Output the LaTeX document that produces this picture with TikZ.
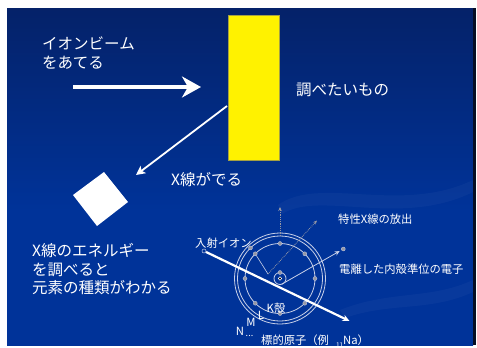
\documentclass[tikz,border=0pt]{standalone}
\usepackage{fontspec}
\newfontfamily\jp{Noto Sans CJK JP}
\usetikzlibrary{arrows.meta}
\definecolor{bgtop}{RGB}{3,10,28}
\definecolor{bgmid}{RGB}{5,32,100}
\definecolor{bgblue}{RGB}{0,51,153}
\definecolor{bgedge}{RGB}{6,14,36}
\definecolor{shell}{RGB}{200,208,232}
\definecolor{edot}{RGB}{150,152,165}
\pgfdeclareverticalshading{slide}{100bp}{color(0bp)=(bgblue); color(45bp)=(bgblue); color(78bp)=(bgmid); color(100bp)=(bgtop)}
\begin{document}
\begin{tikzpicture}[x=1pt,y=-1pt,font=\jp,
    caption/.style={text=white,inner sep=0pt,anchor=west},
    bigtext/.style={caption,font=\jp\fontsize{15.5}{18.5}\selectfont,align=left},
    smalltext/.style={caption,font=\jp\fontsize{11.3}{12}\selectfont},
    orbit/.style={draw=shell,line width=0.8pt},
    electron/.style={circle,fill=edot,draw=shell,line width=0.3pt,inner sep=0pt,minimum size=4pt},
    photon/.style={draw=edot,densely dotted,line width=0.8pt,-{Stealth[length=4pt,width=3.5pt]}}]
  % slide background
  \fill[white] (0,0) rectangle (477,347);
  \shade[shading=slide] (7,8) rectangle (473,345);
  \fill[bgedge] (473,8) rectangle (476,345);
  \fill[white,opacity=0.03] (278,205) .. controls (320,175) and (400,215) .. (473,180)
    -- (473,192) .. controls (400,228) and (320,190) .. (282,214) -- cycle;
  \fill[white,opacity=0.03] (340,310) .. controls (390,290) and (430,300) .. (473,280)
    -- (473,292) .. controls (430,312) and (390,302) .. (345,318) -- cycle;

  % ion beam onto the sample
  \node[bigtext] (beamtext) at (42,53) {イオンビーム\\をあてる};
  \coordinate (beamtail) at (73,87);
  \coordinate (beamhead) at (201,87);
  \draw[white,line width=3.5pt,-{Stealth[length=19pt,width=21pt,inset=6pt]}] (beamtail) -- (beamhead);
  \node[draw=black!40!yellow,fill=yellow,line width=0.5pt,minimum width=51pt,minimum height=145pt,
    inner sep=0pt,anchor=north west] (plate) at (228,15) {};
  \node[bigtext] (platetext) at (296,90) {調べたいもの};

  % x-rays to the detector
  \coordinate (xsrc) at (227,106);
  \coordinate (xdst) at (136,175);
  \draw[white,line width=1.8pt,-{Stealth[length=9pt,width=9pt,inset=2pt]}] (xsrc) -- (xdst);
  \node[bigtext] (xtext) at (171,180) {X線がでる};
  \fill[white] (104,172) -- (128,202) -- (97,226) -- (73,195) -- cycle;
  \node[bigtext] (energytext) at (32,269.5) {X線のエネルギー\\を調べると\\元素の種類がわかる};

  % target atom
  \coordinate (nucleus) at (280,278.5);
  \foreach \r in {45.5,42.5,35,6}
    \draw[orbit] (nucleus) circle[radius=\r];
  \foreach \a in {0,45,...,315}
    \node[electron] (l\a) at ([shift={(\a:35)}]nucleus) {};
  \node[electron] (m225) at ([shift={(226:42.5)}]nucleus) {};
  \node[electron] (k1) at ([shift={(270:6)}]nucleus) {};
  \node[circle,fill=black,draw=white,line width=0.5pt,inner sep=0pt,minimum size=3.5pt] (core) at (nucleus) {};
  \coordinate (vacancy) at ([shift={(75:6)}]nucleus);
  \coordinate (mtop) at ([shift={(270:42.5)}]nucleus);

  % electron falling into the vacancy and the emitted photons
  \coordinate (trans) at (268,274);
  \coordinate (xray1) at (317,220.5);
  \coordinate (xray2) at (280,207);
  \draw[shell,line width=0.6pt] (l225) -- (trans);
  \draw[photon] (trans) -- (xray1);
  \draw[photon] (mtop) -- (xray2);

  % ionised inner-shell electron
  \node[electron] (free) at (343.3,249) {};
  \draw[shell,line width=0.8pt,shorten >=2pt,-{Stealth[length=5pt,width=4.5pt]}] (vacancy) -- (free);

  % incident ion
  \node[circle,draw=shell,fill=bgblue,line width=0.5pt,inner sep=0pt,minimum size=4pt] (ionsrc) at (204,251) {};
  \coordinate (ionend) at (349.5,321);
  \draw[white,line width=2.2pt,-{Stealth[length=7pt,width=6.5pt]}] (ionsrc) -- (ionend);

  % labels
  \node[smalltext] (iontext) at (195,243) {入射イオン};
  \node[smalltext] (xraytext) at (338,219) {特性X線の放出};
  \node[smalltext] (etext) at (339,269) {電離した内殻準位の電子};
  \node[smalltext] (ktext) at (266.5,308) {K殻};
  \node[smalltext,anchor=center] (ltext) at (261,315.5) {L};
  \node[smalltext,anchor=center] (mtext) at (251,322) {M};
  \node[smalltext,anchor=center] (ntext) at (240,331.5) {N};
  \node[smalltext,anchor=center,font=\jp\fontsize{9}{9}\selectfont] (dots) at (249.5,336) {...};
  \node[smalltext] (atomtext) at (261,341) {標的原子（例\hspace{7pt}{\fontsize{6.5}{7}\selectfont\raisebox{-2.5pt}{11}}Na）};
\end{tikzpicture}
\end{document}
